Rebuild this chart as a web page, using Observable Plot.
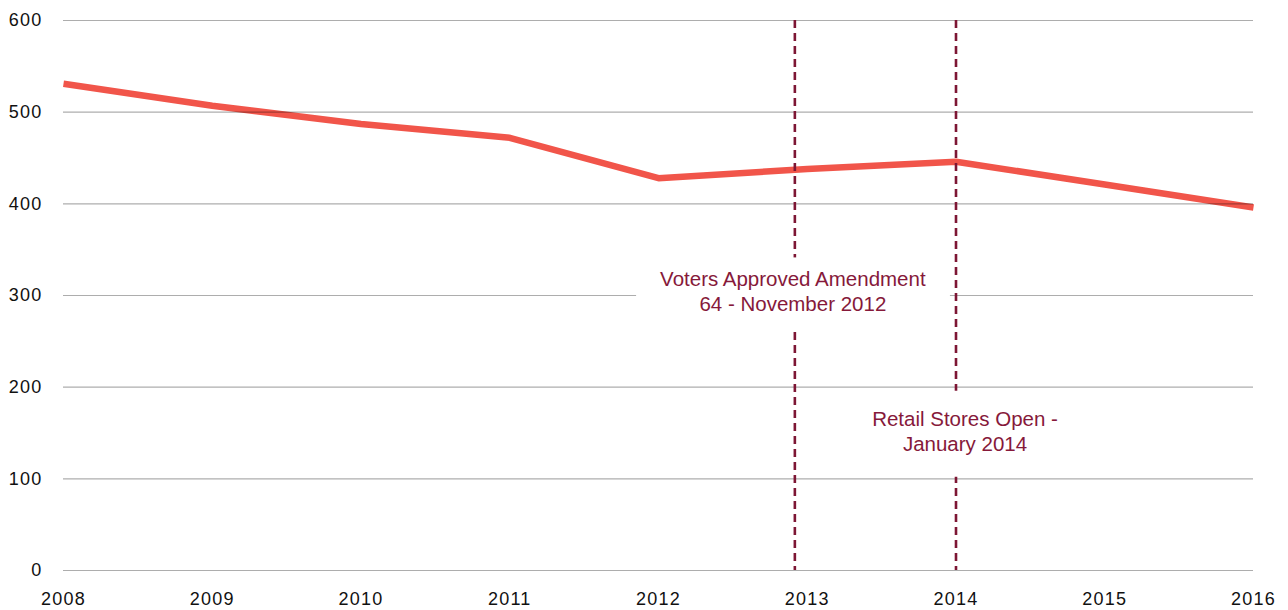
<!DOCTYPE html>
<html>
<head>
<meta charset="utf-8">
<script src="https://cdn.jsdelivr.net/npm/d3@7"></script>
<script src="https://cdn.jsdelivr.net/npm/@observablehq/plot@0.6"></script>
<style>
  html, body { margin: 0; padding: 0; background: #fff; }
  #chart { width: 1288px; height: 610px; }
  svg { font-family: "Liberation Sans", Arial, Helvetica, sans-serif; }
  g[aria-label="x-axis tick label"] text, g[aria-label="y-axis tick label"] text { letter-spacing: 1.2px; }
</style>
</head>
<body>
<div id="chart"></div>
<script>
// Data
const years = [2008, 2009, 2010, 2011, 2012, 2013, 2014, 2015, 2016];
const values = [531, 507, 487, 472, 428, 438, 446, 421, 396];
const yTicks = [0, 100, 200, 300, 400, 500, 600];
const eventDates = [2012 + 11 / 12, 2014];
const eventLabels = ["Voters Approved Amendment\n64 - November 2012", "Retail Stores Open -\nJanuary 2014"];
const eventLabelValues = [305, 153];

const series = years.map((year, i) => ({year, value: values[i]}));
const events = eventDates.map((date, i) => ({date, label: eventLabels[i], labelValue: eventLabelValues[i]}));

const maroon = "#7d1634";
const textMaroon = "#86193a";

const chart = Plot.plot({
  width: 1288,
  height: 610,
  marginLeft: 63,
  marginRight: 35,
  marginTop: 20,
  marginBottom: 40,
  style: {fontSize: "18px", fontFamily: "'Liberation Sans', Arial, Helvetica, sans-serif", color: "#111"},
  x: {domain: [2008, 2016], ticks: years, tickFormat: d => String(d), tickSize: 0, tickPadding: 22, label: null},
  y: {domain: [0, 600], ticks: yTicks, tickSize: 0, tickPadding: 21, label: null},
  marks: [
    Plot.line(series, {x: "year", y: "value", stroke: "#f1554a", strokeWidth: 6.5, strokeLinejoin: "miter", strokeLinecap: "butt"}),
    Plot.ruleY(yTicks, {stroke: "#000", strokeOpacity: 0.32, strokeWidth: 1.1}),
    Plot.ruleX(events, {x: "date", stroke: maroon, strokeWidth: 2.6, strokeDasharray: "8,5"}),
    Plot.text(events, {
      x: "date", y: "labelValue", text: "label",
      fill: textMaroon, fontSize: 20.5, lineHeight: 1.22,
      className: "event-label"
    })
  ]
});

document.getElementById("chart").appendChild(chart);

// Offset labels slightly and add white backing boxes behind annotation text
const offsets = [-2, 9];
const pads = [[24, 10, 15], [24, 16, 22]]; // [horizontal, top, bottom]
d3.select(chart).selectAll("g.event-label text").each(function(d, i) {
  const t = d3.select(this);
  const tr = t.attr("transform") || "";
  t.attr("transform", tr + ` translate(${offsets[i] || 0},0)`);
});
d3.select(chart).selectAll("g.event-label text").each(function(d, i) {
  const [padX, padT, padB] = pads[i] || [20, 12, 12];
  const bb = this.getBBox();
  const m = this.getCTM();
  const parentM = this.parentNode.getCTM();
  const rel = parentM.inverse().multiply(m);
  d3.select(this.parentNode).insert("rect", () => this)
    .attr("x", bb.x - padX).attr("y", bb.y - padT)
    .attr("width", bb.width + 2 * padX).attr("height", bb.height + padT + padB)
    .attr("fill", "#fff")
    .attr("transform", `matrix(${rel.a},${rel.b},${rel.c},${rel.d},${rel.e},${rel.f})`);
});
</script>
</body>
</html>
